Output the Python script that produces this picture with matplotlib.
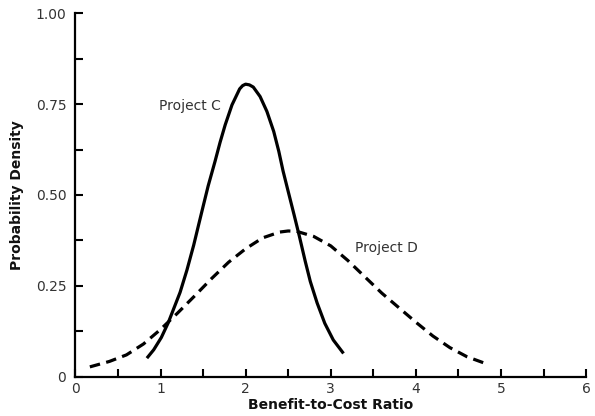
import matplotlib
matplotlib.use("Agg")
import matplotlib.pyplot as plt
from matplotlib.ticker import MultipleLocator, FixedLocator, FixedFormatter

# Data
c_x = [0.84, 0.92, 1.01, 1.09, 1.15, 1.23, 1.31, 1.39, 1.45, 1.50, 1.56, 1.64,
       1.70, 1.76, 1.84, 1.93, 1.965, 2.00, 2.045, 2.09, 2.17, 2.25, 2.33, 2.39,
       2.44, 2.50, 2.57, 2.63, 2.70, 2.76, 2.84, 2.93, 3.03, 3.15]
c_y = [0.051, 0.074, 0.108, 0.148, 0.184, 0.232, 0.293, 0.362, 0.420, 0.468,
       0.525, 0.592, 0.645, 0.693, 0.748, 0.792, 0.801, 0.805, 0.803, 0.797,
       0.771, 0.730, 0.675, 0.620, 0.566, 0.510, 0.445, 0.388, 0.318, 0.262,
       0.203, 0.147, 0.101, 0.064]

d_x = [0.17, 0.40, 0.60, 0.80, 1.00, 1.20, 1.40, 1.60, 1.80, 2.00, 2.20, 2.40,
       2.50, 2.60, 2.80, 3.00, 3.20, 3.40, 3.60, 3.80, 4.00, 4.20, 4.40, 4.60, 4.81]
d_y = [0.027, 0.042, 0.060, 0.090, 0.130, 0.175, 0.222, 0.270, 0.315, 0.352,
       0.382, 0.398, 0.401, 0.400, 0.386, 0.360, 0.320, 0.275, 0.230, 0.190,
       0.150, 0.112, 0.080, 0.055, 0.037]

x_ticks = [0, 1, 2, 3, 4, 5, 6]
y_tick_vals = [0, 0.25, 0.50, 0.75, 1.00]
y_tick_labels = ["0", "0.25", "0.50", "0.75", "1.00"]

label_c = "Project C"
label_d = "Project D"
x_label = "Benefit-to-Cost Ratio"
y_label = "Probability Density"

plt.rcParams['font.family'] = ['DejaVu Sans']

fig = plt.figure(figsize=(5.95, 4.16), dpi=100)
ax = fig.add_axes([0.1267, 0.0945, 0.8583, 0.8735])

ax.plot(c_x, c_y, color="black", lw=2.3, solid_capstyle="butt",
        solid_joinstyle="round", clip_on=False)
ax.plot(d_x, d_y, color="black", lw=2.3, dashes=(3.3, 2.0), dash_capstyle="butt",
        clip_on=False)

ax.text(1.715, 0.744, label_c, fontsize=10, color="#333333", ha="right", va="center")
ax.text(3.285, 0.355, label_d, fontsize=10, color="#333333", ha="left", va="center")

ax.set_xlim(0, 6)
ax.set_ylim(0, 1.0)

for s in ["top", "right"]:
    ax.spines[s].set_visible(False)
for s in ["left", "bottom"]:
    ax.spines[s].set_linewidth(1.6)
    ax.spines[s].set_color("black")

ax.xaxis.set_major_locator(FixedLocator(x_ticks))
ax.xaxis.set_minor_locator(MultipleLocator(0.5))
ax.yaxis.set_major_locator(FixedLocator(y_tick_vals))
ax.yaxis.set_major_formatter(FixedFormatter(y_tick_labels))
ax.yaxis.set_minor_locator(MultipleLocator(0.125))

ax.tick_params(axis="both", which="both", direction="in", length=6, width=1.5,
               colors="black", labelcolor="#333333", labelsize=10)
ax.tick_params(axis="x", which="major", pad=4)
ax.tick_params(axis="y", which="major", pad=6.5)

ax.set_xlabel(x_label, fontsize=10, fontweight="bold", color="#111111", labelpad=1)
ax.set_ylabel(y_label, fontsize=10, fontweight="bold", color="#111111", labelpad=8)

fig.savefig("out.png", dpi=100)
